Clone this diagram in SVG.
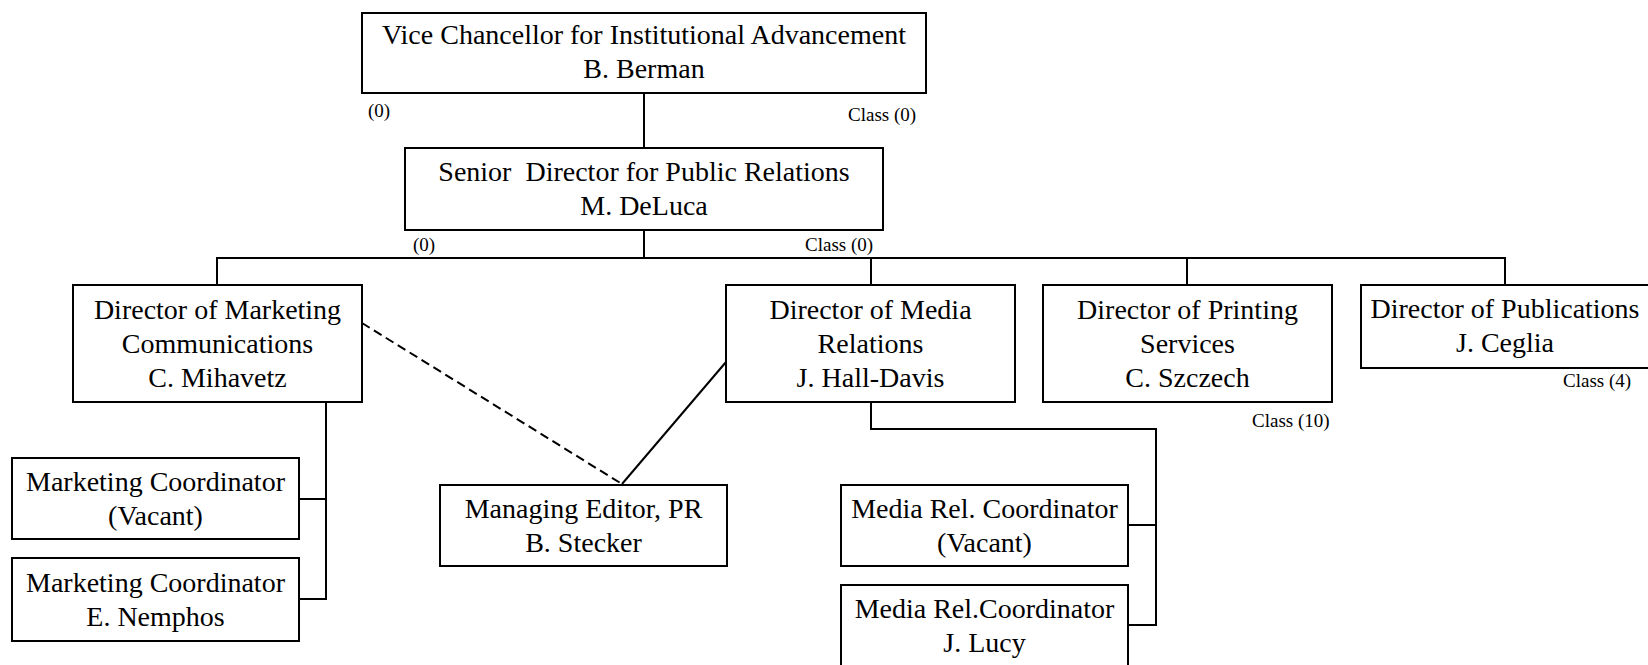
<svg xmlns="http://www.w3.org/2000/svg" width="1648" height="665" viewBox="0 0 1648 665">
<style>
.box{fill:#fff;stroke:#000;stroke-width:2}
.t{font-family:"Liberation Serif","Times New Roman",serif;font-size:28px;fill:#000;text-anchor:middle}
.s{font-family:"Liberation Serif","Times New Roman",serif;font-size:19px;fill:#000}
.c{fill:none;stroke:#000;stroke-width:2}
.d{fill:none;stroke:#000;stroke-width:2;stroke-dasharray:9 5}
</style>
<rect width="1648" height="665" fill="#fff"/>
<g id="connectors">
<line class="c" x1="644" y1="93" x2="644" y2="148"/>
<line class="c" x1="644" y1="230" x2="644" y2="258"/>
<line class="c" x1="216" y1="258" x2="1506" y2="258"/>
<line class="c" x1="217" y1="258" x2="217" y2="285"/>
<line class="c" x1="871" y1="258" x2="871" y2="285"/>
<line class="c" x1="1187" y1="258" x2="1187" y2="285"/>
<line class="c" x1="1505" y1="258" x2="1505" y2="285"/>
<path class="c" d="M326 402 V600 M299 499 H327 M299 599 H327"/>
<path class="c" d="M871 402 V429 H1156 V626 M1128 525 H1157 M1128 625 H1157"/>
<line class="d" x1="362" y1="323" x2="622" y2="484"/>
<line class="c" x1="726" y1="362" x2="622" y2="484"/>
</g>
<g id="vc">
<rect class="box" x="362" y="13" width="564" height="80"/>
<text class="t" x="644" y="44">Vice Chancellor for Institutional Advancement</text>
<text class="t" x="644" y="78">B. Berman</text>
<text class="s" x="368" y="117">(0)</text>
<text class="s" x="848" y="121">Class (0)</text>
</g>
<g id="senior">
<rect class="box" x="405" y="148" width="478" height="82"/>
<text class="t" x="644" y="181" xml:space="preserve">Senior  Director for Public Relations</text>
<text class="t" x="644" y="215">M. DeLuca</text>
<text class="s" x="413" y="251">(0)</text>
<text class="s" x="805" y="251">Class (0)</text>
</g>
<g id="marketing-director">
<rect class="box" x="73" y="285" width="289" height="117"/>
<text class="t" x="217.5" y="319">Director of Marketing</text>
<text class="t" x="217.5" y="353">Communications</text>
<text class="t" x="217.5" y="387">C. Mihavetz</text>
</g>
<g id="media-director">
<rect class="box" x="726" y="285" width="289" height="117"/>
<text class="t" x="870.5" y="319">Director of Media</text>
<text class="t" x="870.5" y="353">Relations</text>
<text class="t" x="870.5" y="387">J. Hall-Davis</text>
</g>
<g id="printing-director">
<rect class="box" x="1043" y="285" width="289" height="117"/>
<text class="t" x="1187.5" y="319">Director of Printing</text>
<text class="t" x="1187.5" y="353">Services</text>
<text class="t" x="1187.5" y="387">C. Szczech</text>
<text class="s" x="1252" y="427">Class (10)</text>
</g>
<g id="publications-director">
<rect class="box" x="1361" y="285" width="289" height="83"/>
<text class="t" x="1505" y="318">Director of Publications</text>
<text class="t" x="1505" y="352">J. Ceglia</text>
<text class="s" x="1563" y="387">Class (4)</text>
</g>
<g id="marketing-coordinator-vacant">
<rect class="box" x="12" y="458" width="287" height="81"/>
<text class="t" x="155.5" y="491">Marketing Coordinator</text>
<text class="t" x="155.5" y="525">(Vacant)</text>
</g>
<g id="marketing-coordinator-nemphos">
<rect class="box" x="12" y="558" width="287" height="83"/>
<text class="t" x="155.5" y="592">Marketing Coordinator</text>
<text class="t" x="155.5" y="626">E. Nemphos</text>
</g>
<g id="managing-editor">
<rect class="box" x="440" y="485" width="287" height="81"/>
<text class="t" x="583.5" y="518">Managing Editor, PR</text>
<text class="t" x="583.5" y="552">B. Stecker</text>
</g>
<g id="media-coordinator-vacant">
<rect class="box" x="841" y="485" width="287" height="81"/>
<text class="t" x="984.5" y="518">Media Rel. Coordinator</text>
<text class="t" x="984.5" y="552">(Vacant)</text>
</g>
<g id="media-coordinator-lucy">
<rect class="box" x="841" y="585" width="287" height="82"/>
<text class="t" x="984.5" y="618">Media Rel.Coordinator</text>
<text class="t" x="984.5" y="652">J. Lucy</text>
</g>
</svg>
